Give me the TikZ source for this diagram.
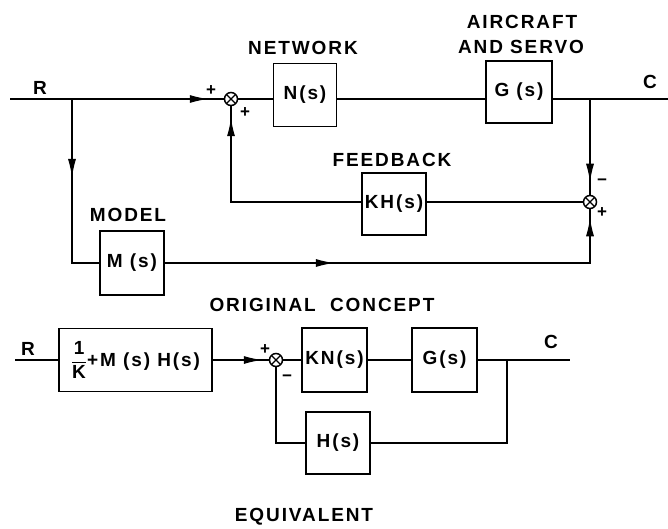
\documentclass[tikz,border=0pt]{standalone}
\usepackage{amsmath}
\usepackage{fontspec}
\setmainfont{Liberation Sans}[LetterSpace=10]
\usetikzlibrary{arrows.meta,decorations.markings}
\begin{document}
\begin{tikzpicture}[x=1pt,y=-1pt,
  every node/.style={font=\bfseries\fontsize{19}{22}\selectfont, inner sep=0pt},
  blk/.style={draw, line width=1.6pt},
  sumj/.style={draw, circle, line width=1.5pt, minimum size=13pt,
    path picture={\draw[line width=1.3pt]
      (path picture bounding box.north west) -- (path picture bounding box.south east)
      (path picture bounding box.north east) -- (path picture bounding box.south west);}},
  wire/.style={line width=2.8pt},
  arr/.style={postaction={decorate, decoration={markings,
      mark=at position #1 with {\arrow[line width=1pt]{Latex[length=18pt,width=8pt]}}}}},
  pm/.style={font=\bfseries\fontsize{17}{18}\selectfont}]
\useasboundingbox (0,0) rectangle (668,529);
% ---------- original concept ----------
\node[blk, minimum width=63pt, minimum height=63pt] (N) at (305,95) {N(s)};
\node[blk, minimum width=66pt, minimum height=62pt] (G) at (519,92) {G (s)};
\node[blk, minimum width=64pt, minimum height=62pt] (KH) at (394,204) {KH(s)};
\node[blk, minimum width=64pt, minimum height=64pt] (M) at (132,263) {M (s)};
\node[sumj] (s1) at (231,99) {};
\node[sumj] (s2) at (590,202) {};
\coordinate (Rin) at (10,99);
\coordinate (Rbr) at (72,99);
\coordinate (Cbr) at (590,99);
\coordinate (Cout) at (668,99);
\coordinate (FBc) at (231,202);
\coordinate (Mc) at (72,263);
\coordinate (Mr) at (590,263);

\draw[wire, arr=-16pt] (Rin) -- (s1.west);
\draw[wire] (s1.east) -- (s1.east -| N.west);
\draw[wire] (N.east |- s1) -- (G.west |- s1);
\draw[wire] (G.east |- s1) -- (Cout);
\draw[wire, arr=-13pt] (Cbr) -- (s2.north);
\draw[wire] (KH.east |- s2) -- (s2.west);
\draw[wire, arr=-12pt] (KH.west |- s2) -- (FBc) -- (s1.south);
\draw[wire, arr=78pt] (Rbr) -- (Mc) -- (M.west);
\draw[wire, arr=169pt, arr=-9pt] (M.east) -- (Mr) -- (s2.south);

\node (lR) at (40,88) {R};
\node (lC) at (650,82) {C};
\node (lnet) at (303,48) {NETWORK};
\node (lair) at (522,22) {AIRCRAFT};
\node (land) at (521,47) {AND SERVO};
\node (lfb) at (392,160) {FEEDBACK};
\node (lmod) at (128,215) {MODEL};
\node (lorig) at (322,305) {ORIGINAL\ \ CONCEPT};
\node[pm] (p1) at (211,91) {+};
\node[pm] (p2) at (245,113) {+};
\node[pm] (p3) at (602,182) {−};
\node[pm] (p4) at (602,213) {+};

% ---------- equivalent ----------
\node[blk, minimum width=153pt, minimum height=63pt] (E1) at (135.5,360) {$\dfrac{\text{1}}{\text{K}}$+M (s) H(s)};
\node[sumj] (s3) at (276,360) {};
\node[blk, minimum width=65pt, minimum height=64pt] (KN) at (334.5,360) {KN(s)};
\node[blk, minimum width=65pt, minimum height=64pt] (G2) at (444.5,360) {G(s)};
\node[blk, minimum width=64pt, minimum height=62pt] (H) at (338,443) {H(s)};
\coordinate (Rb) at (15,360);
\coordinate (C2) at (507,360);
\coordinate (Out2) at (570,360);

\draw[wire] (Rb) -- (E1.west);
\draw[wire, arr=-7pt] (E1.east) -- (s3.west);
\draw[wire] (s3.east) -- (KN.west);
\draw[wire] (KN.east) -- (G2.west);
\draw[wire] (G2.east) -- (Out2);
\draw[wire] (C2) -- (C2 |- H.east) -- (H.east);
\draw[wire] (H.west) -- (H.west -| s3) -- (s3.south);

\node (lR2) at (28,349) {R};
\node (lC2) at (551,342) {C};
\node[pm] (p5) at (265,350) {+};
\node[pm] (p6) at (287,378) {−};
\node (leq) at (304,517) {EQUIVALENT};
\end{tikzpicture}
\end{document}
